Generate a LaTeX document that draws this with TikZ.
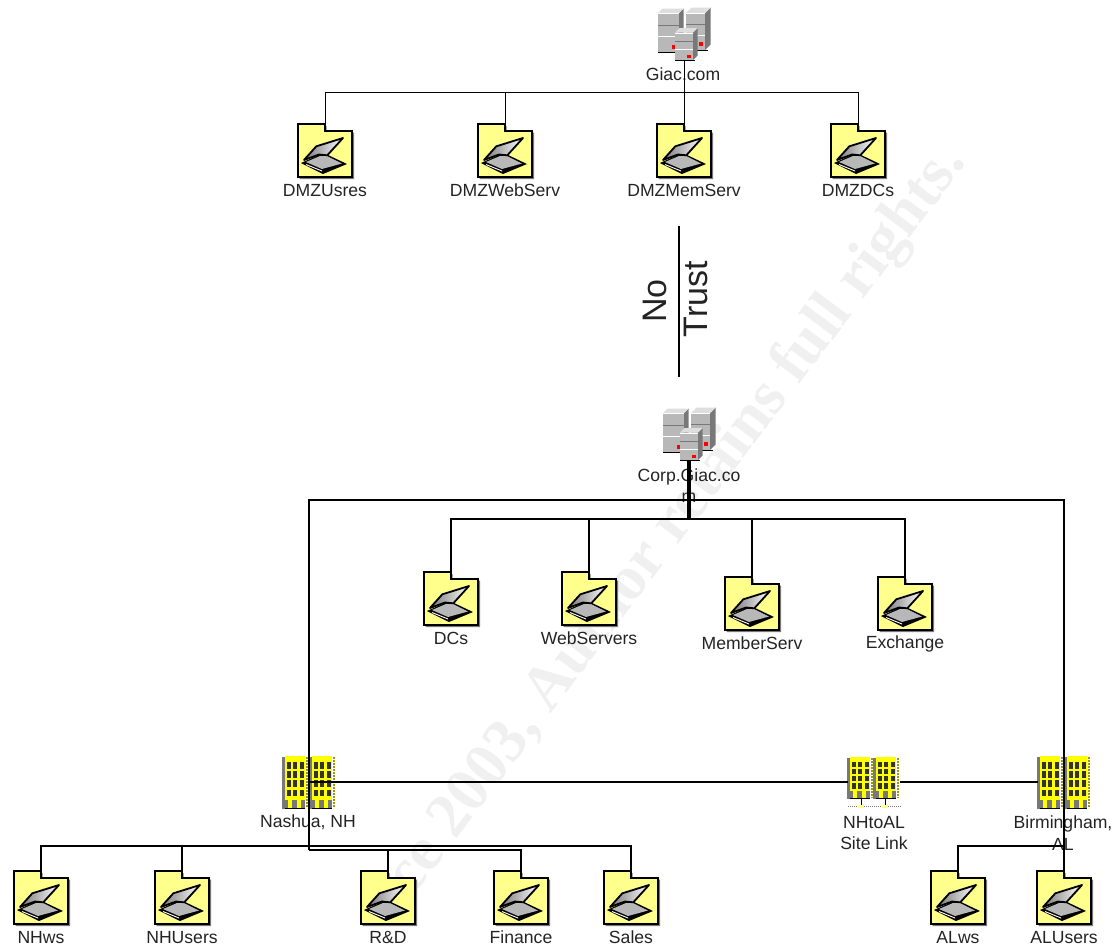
\documentclass[tikz,border=0pt]{standalone}
\usepackage{fontspec}
\setmainfont{Liberation Sans}
\newfontfamily\markfont{Liberation Serif}
\usepackage{xcolor}
\usepackage{tikz}
\usetikzlibrary{positioning}
\definecolor{myyellow}{RGB}{255,255,140}
\definecolor{mybright}{RGB}{255,255,0}
\definecolor{mygray}{RGB}{184,184,184}
\definecolor{mydark}{RGB}{120,120,120}
\definecolor{mylight}{RGB}{222,222,222}
\definecolor{mytext}{RGB}{35,35,35}
\definecolor{mymark}{RGB}{240,240,240}

% server cube: x, y, width, height, depth
\newcommand{\servercube}[5]{
  \fill[black] (#1,#2+#4) rectangle ++(#3+#5/2,1.2);
  \fill[mydark] (#1+#3,#2) -- ++(#5,-#5) -- ++(0,#4) -- ++(-#5,#5) -- cycle;
  \fill[mylight] (#1,#2) -- ++(#5,-#5) -- ++(#3,0) -- ++(-#5,#5) -- cycle;
  \fill[mygray] (#1,#2) rectangle ++(#3,#4);
  \fill[white] (#1,#2) rectangle ++(#3,0.7);
  \fill[white] (#1,#2+0.6*#4) rectangle ++(#3,1);
  \fill[mydark] (#1,#2+0.3*#4) rectangle ++(#3,0.7);
}
% office block: x of the face, y of the top, width, height
\newcommand{\officeblock}[4]{
  \fill[mydark] (#1-3,#2+1) rectangle ++(3,#4);
  \fill[mybright] (#1,#2) rectangle ++(#3,#4);
  \draw[mybright!60!black, densely dotted, line width=2pt] (#1+#3+1.5,#2+1) -- ++(0,#4-1);
  \foreach \r in {0,1,2,3}{
    \foreach \c in {0,1,2}{
      \fill[black!80] (#1+1.7+\c*6.4,#2+0.12*#4+\r*0.175*#4) rectangle ++(4,0.125*#4);
    }
  }
  \fill[mydark] (#1,#2+0.84*#4) rectangle ++(#3,0.16*#4);
  \fill[mybright] (#1+3,#2+0.84*#4) rectangle ++(4,0.16*#4);
  \fill[mybright] (#1+12,#2+0.84*#4) rectangle ++(4,0.16*#4);
  \draw[black, line width=1pt] (#1,#2+#4) -- ++(#3,0);
}

\tikzset{
  folderpic/.pic={
    \fill[mydark] (-25.5,2) -- (1.5,2) -- (1.5,8.5) -- (29,8.5) -- (29,55) -- (-25.5,55) -- cycle;
    \draw[black, line width=2.4pt, fill=myyellow, miter limit=2]
      (-27,0) -- (0,0) -- (0,7) -- (27,7) -- (27,53) -- (-27,53) -- cycle;
    % open lid and base
    \fill[black] (-24,39) -- (-6,31) -- (3,31) -- (22,40) -- (-2,50) -- cycle;
    \fill[mygray] (-19,38) -- (-5,32) -- (2,32) -- (17,39.5) -- (-3,45) -- cycle;
    \fill[white] (-19,40) -- (-3,46.5) -- (-3,47.5) -- (-19,41) -- cycle;
    \draw[black, line width=1.8pt, left color=mydark, right color=white, line join=round]
      (-21,36) -- (-8.7,22.3) -- (18,14) -- (2.3,31.3) -- (-6,30.5) -- cycle;
  },
  serverpic/.pic={
    \servercube{-26}{-47}{21}{39}{4.5}
    \fill[red] (-12,-15) rectangle ++(3.5,3.5);
    \servercube{2}{-47}{19}{37}{5.5}
    \fill[red] (15,-18) rectangle ++(3.5,3.5);
    \servercube{-9}{-27.5}{18}{27.5}{4.5}
    \fill[red] (2.5,-5) rectangle ++(4,2.8);
  },
  officepic/.pic={
    \officeblock{-24}{-26}{20}{52}
    \officeblock{3}{-26}{20}{52}
  },
  sitepic/.pic={
    \officeblock{-24}{-20}{20}{41}
    \officeblock{2}{-20}{20}{41}
    \draw[mydark, densely dotted, line width=1pt] (-26,29.7) -- (27,29.7);
    \draw[black, line width=0.8pt] (-13,21) -- (-13,29.7) (11,21) -- (11,29.7);
    \fill[myyellow] (-16,28.2) rectangle ++(6,3);
    \fill[myyellow] (8,28.2) rectangle ++(6,3);
  },
  foldernode/.style={minimum width=54pt, minimum height=53pt, inner sep=0pt, anchor=north},
  servernode/.style={minimum width=54pt, minimum height=52pt, inner sep=0pt, anchor=south},
  officenode/.style={minimum width=52pt, minimum height=52pt, inner sep=0pt},
  icontext/.style={text=mytext, inner sep=0pt, align=center,
    font=\fontsize{17.6}{21.5}\selectfont},
  trusttext/.style={text=mytext, inner sep=0pt, rotate=90,
    font=\fontsize{34}{36}\selectfont},
  thinline/.style={black, line width=1pt},
  thickline/.style={black, line width=2.8pt},
  trunkline/.style={black, line width=3.4pt},
}

\begin{document}
\begin{tikzpicture}[x=1pt, y=-1pt]
  \useasboundingbox (0,0) rectangle (1114,948);

  % watermark
  \node[text=mymark, anchor=base east, rotate=53, inner sep=0pt,
        font=\markfont\bfseries\fontsize{63}{63}\selectfont] (stamp) at (967,162)
    {ce 2003, Author retains full rights.};

  % folders
  \foreach \n/\x/\y/\t in {dmzusres/325/124/DMZUsres, dmzwebserv/505/124/DMZWebServ,
      dmzmemserv/684/124/DMZMemServ, dmzdcs/858/124/DMZDCs,
      dcs/451/572/DCs, webservers/589/572/WebServers,
      memberserv/752/577/MemberServ, exchange/905/577/Exchange,
      nhws/41/871/NHws, nhusers/182/871/NHUsers, rd/388/871/R\&D,
      finance/521/871/Finance, sales/631/871/Sales,
      alws/958/871/ALws, alusers/1064/871/ALUsers}{
    \node[foldernode] (\n) at (\x,\y) {};
    \pic at (\n.north) {folderpic};
    \node[icontext] (\n label) at (\x,\y+66.5) {\t};
  }

  % domains
  \node[servernode] (giac) at (684,60) {};
  \pic at (giac.south) {serverpic};
  \node[icontext] (giac label) at (683,74) {Giac.com};
  \node[servernode] (corp) at (689,460) {};
  \pic at (corp.south) {serverpic};
  \node[icontext] (corp label) at (689,485.5) {Corp.Giac.co\\m};

  % sites
  \node[officenode] (nashua) at (309,782) {};
  \pic at (nashua.center) {officepic};
  \node[icontext] (nashua label) at (308,822) {Nashua, NH};
  \node[officenode, minimum height=41pt] (sitelink) at (874,777) {};
  \pic at (sitelink.center) {sitepic};
  \node[icontext] (sitelink label) at (874,833) {NHtoAL\\Site Link};
  \node[officenode] (birmingham) at (1064,782) {};
  \pic at (birmingham.center) {officepic};
  \node[icontext] (birmingham label) at (1063,833) {Birmingham,\\AL};

  % no trust
  \coordinate (trusttop) at (679,226);
  \coordinate (trustend) at (679,377);
  \draw[black, line width=2pt] (trusttop) -- (trustend);
  \node[trusttext] (no) at (655,301) {No};
  \node[trusttext] (trust) at (696,299) {Trust};

  % dmz links
  \coordinate (giacbus) at (684,92);
  \draw[thinline] (giac.south) -- (dmzmemserv.north);
  \foreach \n in {dmzusres, dmzwebserv, dmzdcs}{
    \draw[thinline] (giacbus) -| (\n.north);
  }

  % corp links
  \coordinate (corpouter) at (689,500);
  \coordinate (corpbus) at (689,519);
  \draw[trunkline] (corp.south) -- (corpbus);
  \draw[thickline] (corpouter) -| (nashua.center);
  \draw[thickline] (corpouter) -| (birmingham.center);
  \foreach \n in {dcs, webservers, memberserv, exchange}{
    \draw[thickline] (corpbus) -| (\n.north);
  }

  % site links
  \draw[thickline] (nashua.center) -- (sitelink.west |- nashua.center);
  \draw[thickline] (sitelink.east |- birmingham.center) -- (birmingham.west);

  % nashua ous
  \coordinate (nhbus) at (309,846);
  \coordinate (nhlow) at (309,850);
  \draw[thickline] (nashua.center) -- (nhlow);
  \foreach \n in {nhws, nhusers, sales}{
    \draw[thickline] (nhbus) -| (\n.north);
  }
  \foreach \n in {rd, finance}{
    \draw[thickline] (nhlow) -| (\n.north);
  }

  % birmingham ous
  \coordinate (albus) at (1064,846);
  \draw[thickline] (birmingham.center) -- (alusers.north);
  \draw[thickline] (albus) -| (alws.north);
\end{tikzpicture}
\end{document}
